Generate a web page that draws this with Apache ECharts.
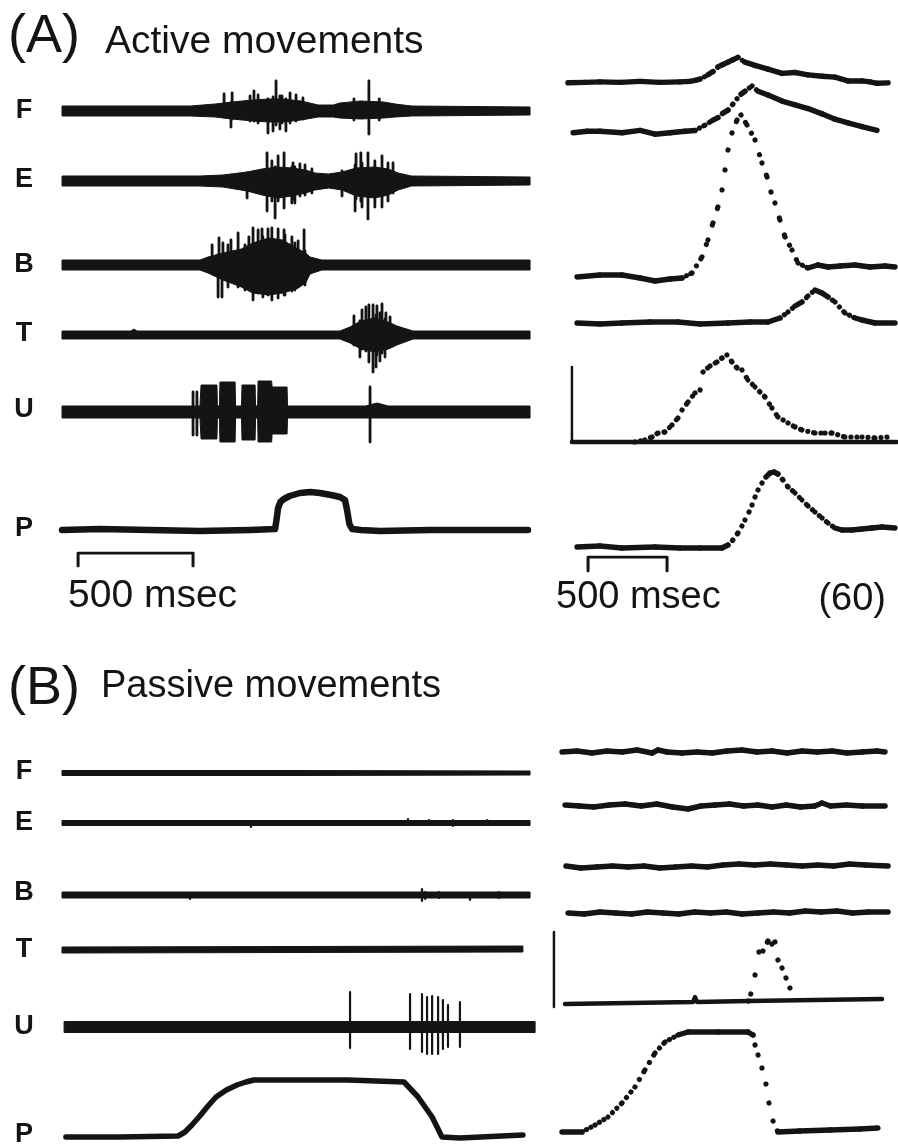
<!DOCTYPE html>
<html><head><meta charset="utf-8">
<script src="https://cdn.jsdelivr.net/npm/echarts@6/dist/echarts.min.js"></script>
<style>html,body{margin:0;padding:0;background:#fff}#c{width:898px;height:1145px}</style>
</head><body><div id="c"></div><script>
// ---------------- DATA ----------------
const rowLabels = ['F', 'E', 'B', 'T', 'U', 'P'];
const panelTitles = ['Active movements', 'Passive movements'];
const scaleBarMs = 500;
const calibLabel = '(60)';

// Left column (single trials), time in ms; EMG as [t, upper, lower] envelope; spikes [t, top, bottom]
const A_F_env = [[0,5,-5],[560,5,-5],[666,7,-6],[740,9,-8],[830,11,-10],[900,12,-11],[960,12,-11],[1040,10,-9],[1114,6,-6],[1180,6,-6],[1209,8,-7],[1300,10,-8],[1400,9,-7],[1449,7,-6],[1520,5,-5],[2036,4,-4]];
const A_F_spk = [[705,17,-6],[735,8,-16],[740,18,-8],[818,15,-10],[835,20,-10],[853,16,-12],[896,12,-22],[918,14,-20],[931,30,-14],[948,15,-18],[957,15,-12],[974,12,-20],[992,18,-12],[1018,16,-10],[1048,13,-8],[1270,12,-9],[1335,30,-23],[1380,12,-9]];
const A_E_env = [[0,5,-5],[600,5,-5],[700,6,-6],[805,9,-10],[870,12,-14],[940,14,-17],[1000,13,-15],[1060,11,-12],[1100,8,-9],[1160,7,-7],[1218,9,-9],[1280,13,-15],[1360,14,-17],[1420,12,-14],[1462,8,-9],[1520,5,-5],[2036,4,-4]];
const A_E_spk = [[805,8,-17],[892,28,-30],[913,20,-20],[927,14,-37],[940,25,-20],[966,28,-27],[1000,14,-22],[1005,18,-18],[1013,14,-22],[1035,17,-15],[1057,16,-14],[1087,12,-12],[1218,10,-15],[1275,16,-30],[1279,27,-18],[1300,28,-20],[1305,18,-26],[1331,28,-38],[1361,20,-26],[1392,25,-26],[1418,18,-20],[1440,18,-12]];
const A_B_env = [[0,5,-5],[600,5,-5],[635,8,-8],[700,12,-15],[780,16,-22],[830,22,-28],[900,27,-30],[960,25,-28],[1020,17,-24],[1060,12,-18],[1079,8,-9],[1130,5,-5],[2036,5,-5]];
const A_B_spk = [[653,20,-8],[679,10,-32],[683,27,-10],[696,10,-32],[700,22,-12],[722,20,-22],[735,25,-14],[766,32,-22],[796,20,-25],[813,28,-20],[831,37,-35],[853,35,-28],[870,36,-26],[874,28,-32],[896,36,-30],[913,37,-35],[940,36,-33],[966,35,-30],[970,30,-30],[1000,28,-26],[1013,22,-25],[1027,24,-22],[1053,35,-14],[1057,14,-20]];
const A_T_env = [[0,4,-4],[300,4,-4],[313,6,-4],[326,4,-4],[1209,4,-4],[1253,8,-8],[1300,14,-14],[1360,17,-17],[1420,13,-14],[1457,9,-10],[1527,4,-4],[2036,4,-4]];
const A_T_spk = [[1270,19,-10],[1296,14,-22],[1305,25,-14],[1322,28,-16],[1335,30,-27],[1353,30,-37],[1366,20,-32],[1370,29,-20],[1383,22,-26],[1392,31,-18],[1405,16,-22],[1409,22,-12],[1427,18,-10]];
const A_U_env = [[0,6,-6],[600,6,-6],[605,27,-27],[674,27,-27],[676,6,-6],[685,6,-6],[687,30,-30],[753,30,-30],[755,6,-6],[781,6,-6],[783,27,-28],[840,27,-28],[842,6,-6],[851,6,-6],[853,31,-30],[912,31,-30],[914,25,-22],[979,25,-22],[981,6,-6],[1320,6,-6],[1370,9,-6],[1420,6,-6],[2036,6,-6]];
const A_U_spk = [[570,20,-23],[587,20,-23],[1340,25,-30]];
const A_P = [[0,0],[165,1],[383,0],[600,-1],[818,0],[927,1],[933,10],[940,22],[950,28],[965,31],[990,34],[1035,37],[1080,38],[1122,37],[1170,35],[1209,33],[1231,30],[1240,20],[1250,6],[1262,1],[1300,0],[1383,-1],[1600,0],[2027,0]];

const B_F_env = [[0,2.5,-2.5],[1000,2.5,-2.5],[2036,2,-2]];
const B_F_spk = [];
const B_E_env = [[0,2.5,-2.5],[2036,2.5,-2.5]];
const B_E_spk = [[822,1,-4],[1505,4,-2],[1596,3,-2],[1700,3,-3],[1850,3,-2]];
const B_B_env = [[0,3,-3],[2036,3,-3]];
const B_B_spk = [[557,1,-4],[1566,6,-6],[1580,3,-4],[1640,3,-3],[1775,2,-5],[1900,3,-3]];
const B_T_env = [[0,3,-3],[1000,3.5,-2.5],[2005,4,-2]];
const B_T_spk = [];
const B_U_env = [[9,5.5,-5.5],[2058,5.5,-5.5]];
const B_U_spk = [[1253,35,-21],[1514,33,-22],[1566,33,-25],[1588,30,-27],[1610,31,-27],[1636,30,-27],[1657,27,-22],[1679,22,-20],[1731,25,-20]];
const B_P = [[17,0],[252,0],[505,1],[535,5],[565,12],[596,20],[635,31],[670,40],[715,47],[761,52],[800,55],[835,57],[944,57],[1244,57],[1488,55],[1549,40],[1610,20],[1653,0],[1731,-1],[2005,2]];

// Right column (averages of 60 trials), [t ms, value]
const RA_F = [[38,-1],[146,0],[240,1],[367,0],[494,2],[620,0],[747,1],[810,2],[842,4],[874,7],[924,16],[956,23],[987,33],[1019,38],[1051,43],[1082,48],[1114,53],[1158,43],[1222,36],[1304,28],[1393,19],[1475,21],[1557,16],[1646,13],[1728,11],[1810,3],[1899,3],[1950,1],[1994,-2],[2064,-1]];
const RA_E = [[70,-1],[160,1],[240,1],[380,-1],[494,2],[589,-3],[684,-1],[779,1],[842,2],[905,9],[950,15],[987,19],[1019,25],[1051,29],[1082,37],[1108,44],[1133,50],[1158,54],[1203,61],[1241,54],[1304,49],[1393,41],[1475,36],[1557,31],[1646,24],[1728,17],[1810,12],[1899,7],[1994,2]];
const RA_B = [[95,-1],[240,1],[380,1],[494,-2],[589,-5],[684,-3],[760,-2],[823,3],[886,19],[924,36],[956,53],[987,69],[1013,86],[1032,106],[1051,126],[1076,143],[1108,156],[1133,161],[1171,151],[1222,136],[1266,113],[1298,99],[1323,84],[1348,73],[1380,56],[1412,39],[1456,26],[1494,13],[1557,8],[1620,11],[1684,9],[1760,10],[1855,11],[1950,9],[2045,10],[2108,9]];
const RA_T = [[95,0],[240,-1],[380,0],[557,1],[734,1],[874,-1],[1051,0],[1190,1],[1304,1],[1380,5],[1431,11],[1475,17],[1519,21],[1557,27],[1601,33],[1646,30],[1684,26],[1728,21],[1791,10],[1855,5],[1899,3],[1981,0],[2108,0]];
const RA_U = [[460,0],[525,2],[570,5],[608,9],[652,10],[696,17],[734,24],[760,32],[798,40],[842,49],[874,52],[893,70],[937,76],[981,80],[1013,84],[1044,87],[1076,80],[1108,74],[1139,72],[1177,62],[1222,55],[1253,50],[1285,45],[1329,34],[1367,25],[1431,19],[1475,15],[1519,12],[1601,9],[1665,9],[1709,9],[1791,5],[1899,5],[1981,4],[2064,5]];
const RA_U_zero = [[63,0],[2120,0]];
const RA_U_cal = [[63,0],[63,75]];
const RA_P = [[95,0],[240,1],[380,-1],[589,0],[747,-1],[874,-1],[1013,-1],[1051,2],[1082,7],[1114,14],[1139,21],[1158,27],[1184,35],[1203,42],[1222,50],[1241,57],[1266,64],[1291,70],[1317,74],[1342,75],[1367,73],[1399,67],[1431,60],[1475,54],[1519,47],[1557,41],[1601,35],[1646,29],[1684,24],[1728,19],[1772,17],[1836,17],[1899,18],[1962,19],[2026,20],[2108,19]];

const RB_F = [[0,0],[95,1],[190,-1],[285,1],[380,0],[475,2],[570,-1],[608,2],[665,0],[760,-1],[855,0],[950,-1],[1045,1],[1140,2],[1235,0],[1330,1],[1425,-1],[1520,1],[1615,0],[1710,1],[1805,-1],[1900,0],[1995,1],[2045,0]];
const RB_E = [[19,1],[110,0],[200,-1],[300,1],[400,2],[500,0],[600,2],[700,-1],[798,-3],[880,0],[970,1],[1060,2],[1150,0],[1240,1],[1330,-1],[1420,1],[1510,-1],[1600,0],[1646,3],[1700,0],[1800,1],[1900,0],[2045,0]];
const RB_B = [[25,1],[120,-1],[220,0],[320,1],[420,0],[520,1],[620,-1],[720,0],[820,1],[920,0],[1020,2],[1120,3],[1220,2],[1320,3],[1420,2],[1520,1],[1620,2],[1720,1],[1820,3],[1920,2],[2064,1]];
const RB_T = [[38,0],[140,-1],[240,1],[340,0],[440,-1],[540,1],[640,0],[740,-1],[840,1],[940,0],[1040,1],[1140,-1],[1240,0],[1340,1],[1440,0],[1540,2],[1640,1],[1740,2],[1840,0],[1940,1],[2064,1]];
const RB_U = [[1180,3],[1195,10],[1222,29],[1247,52],[1272,53],[1304,63],[1329,60],[1348,62],[1367,44],[1393,36],[1418,26],[1443,16],[1469,7]];
const RB_U_zero = [[19,0],[830,2],[842,7],[855,2],[1180,3],[2026,5]];
const RB_U_cal = [[-51,-3],[-51,72]];
const RB_P = [[0,0],[127,0],[209,7],[291,15],[380,29],[462,45],[525,62],[589,79],[652,90],[734,97],[798,100],[987,100],[1177,100],[1209,97],[1222,87],[1241,77],[1266,64],[1291,48],[1310,29],[1336,11],[1367,0],[1506,1],[1696,2],[1886,3],[2000,4]];

// ---------------- LAYOUT / STYLE ----------------
const INK = '#141414';
const SAMPLE_MS = 28;
const LEFT = {left:62, tMin:0, tMax:2080, pxPerMs:1/4.35};
const RIGHT = {left:546.2, tMin:-100, tMax:2127, pxPerMs:1/6.33};
const grids=[], xAxis=[], yAxis=[], series=[];
function grid(col, top, height, yMin, yMax){
  const i = grids.length;
  grids.push({left:col.left, top:top, width:(col.tMax-col.tMin)*col.pxPerMs, height:height, show:false});
  xAxis.push({type:'value', gridIndex:i, min:col.tMin, max:col.tMax, show:false});
  yAxis.push({type:'value', gridIndex:i, min:yMin, max:yMax, show:false});
  return i;
}
function traceGrid(col, baseline, up, down){ return grid(col, baseline-up, up+down, -down, up); }

function band(g, env){
  return {type:'custom', xAxisIndex:g, yAxisIndex:g, silent:true, clip:false, z:2,
    data:[env[0]],
    renderItem:(p, api)=>{
      const top = env.map(d=>api.coord([d[0], d[1]]));
      const bot = env.slice().reverse().map(d=>api.coord([d[0], d[2]]));
      return {type:'polygon', shape:{points:top.concat(bot)}, style:{fill:INK, stroke:INK, lineWidth:1, lineJoin:'round'}};
    }};
}
function spikes(g, spk, w){
  return {type:'custom', xAxisIndex:g, yAxisIndex:g, silent:true, clip:false, z:3,
    data:spk, encode:{x:0, y:[1,2]},
    renderItem:(p, api)=>{
      const a = api.coord([api.value(0), api.value(1)]);
      const b = api.coord([api.value(0), api.value(2)]);
      return {type:'line', shape:{x1:a[0], y1:a[1], x2:b[0], y2:b[1]}, style:{stroke:INK, lineWidth:w||2.8, lineCap:'round'}};
    }};
}
function line(g, data, w){
  return {type:'line', xAxisIndex:g, yAxisIndex:g, data:data, symbol:'none', silent:true, z:3,
    lineStyle:{color:INK, width:w, cap:'round', join:'round'}};
}
function avg(g, pts, forceDots){
  const segs = pts.slice(0,-1).map((p,i)=>[p[0], p[1], pts[i+1][0], pts[i+1][1]]);
  return {type:'custom', xAxisIndex:g, yAxisIndex:g, silent:true, clip:false, z:4,
    data:segs, encode:{x:[0,2], y:[1,3]},
    renderItem:(p, api)=>{
      const a = api.coord([api.value(0), api.value(1)]);
      const b = api.coord([api.value(2), api.value(3)]);
      const dx = Math.abs(b[0]-a[0]), dy = Math.abs(b[1]-a[1]);
      const len = Math.hypot(dx, dy);
      const sp = api.size([SAMPLE_MS, 0])[0];
      let step = sp * len / Math.max(dx, 0.01);
      const dotted = forceDots || (step > 4.9 && dy > 4);
      if (forceDots) step = Math.max(step, 6);
      return {type:'line', shape:{x1:a[0], y1:a[1], x2:b[0], y2:b[1]},
        style:{stroke:INK, lineWidth: dotted ? 5.2 : 5.4, lineCap:'round', lineJoin:'round', lineDash: dotted ? [0.01, step] : null}};
    }};
}

// Left column
const leftA = [[111,A_F_env,A_F_spk],[181,A_E_env,A_E_spk],[265,A_B_env,A_B_spk],[335,A_T_env,A_T_spk],[412,A_U_env,A_U_spk]];
leftA.forEach(r=>{ const g = traceGrid(LEFT, r[0], 50, 50); series.push(band(g, r[1]), spikes(g, r[2])); });
{ const g = traceGrid(LEFT, 530, 50, 20); series.push(line(g, A_P, 6.5)); }
const leftB = [[773,B_F_env,B_F_spk],[823,B_E_env,B_E_spk],[895,B_B_env,B_B_spk],[950,B_T_env,B_T_spk],[1027,B_U_env,B_U_spk]];
leftB.forEach(r=>{ const g = traceGrid(LEFT, r[0], 45, 45); series.push(band(g, r[1]), spikes(g, r[2], 2.2)); });
{ const g = traceGrid(LEFT, 1137, 70, 8); series.push(line(g, B_P, 5.5)); }

// Right column
[[76,RA_F],[129,RA_E],[276,RA_B],[323,RA_T],[547,RA_P],[752,RB_F],[806,RB_E],[867,RB_B],[913,RB_T],[1132,RB_P]].forEach(r=>{
  const g = traceGrid(RIGHT, r[0], 175, 12); series.push(avg(g, r[1], false));
});
{ const g = traceGrid(RIGHT, 442, 100, 10);
  series.push(line(g, RA_U_zero, 4.5), line(g, RA_U_cal, 2.5), avg(g, RA_U, true)); }
{ const g = traceGrid(RIGHT, 1004, 100, 10);
  series.push(line(g, RB_U_zero, 4.5), line(g, RB_U_cal, 2.5), avg(g, RB_U, true)); }

// 500 ms scale bars
{ const g = grid(LEFT, 553, 13, 0, 1);
  series.push(line(g, [[70,0],[70,1],[70+scaleBarMs,1],[70+scaleBarMs,0]], 3)); }
{ const g = grid(RIGHT, 557, 14, 0, 1);
  series.push(line(g, [[165,0],[165,1],[165+scaleBarMs,1],[165+scaleBarMs,0]], 3)); }

// Texts
const SANS = '"Liberation Sans", Arial, sans-serif';
function txt(x, y, text, size, weight, align){
  return {type:'text', silent:true, z:10, style:{x:x, y:y, text:text, fill:INK,
    font: (weight||'normal') + ' ' + size + 'px ' + SANS, textAlign: align||'left', textVerticalAlign:'middle'}};
}
const graphic = [
  txt(8, 37, '(A)', 54), txt(105, 42, panelTitles[0], 39),
  txt(8, 689, '(B)', 54), txt(101, 687, panelTitles[1], 38),
  txt(68, 596, scaleBarMs + ' msec', 39), txt(556, 598, scaleBarMs + ' msec', 38),
  txt(886, 600, calibLabel, 38, 'normal', 'right')
];
[111,180,265,334,410,529].forEach((y,i)=>graphic.push(txt(24, y, rowLabels[i], 27, 'bold', 'center')));
[772,823,893,950,1027,1135].forEach((y,i)=>graphic.push(txt(24, y, rowLabels[i], 27, 'bold', 'center')));

const chart = echarts.init(document.getElementById('c'), null, {renderer:'canvas'});
chart.setOption({animation:false, backgroundColor:'#fff', grid:grids, xAxis:xAxis, yAxis:yAxis, series:series, graphic:graphic});
</script></body></html>
